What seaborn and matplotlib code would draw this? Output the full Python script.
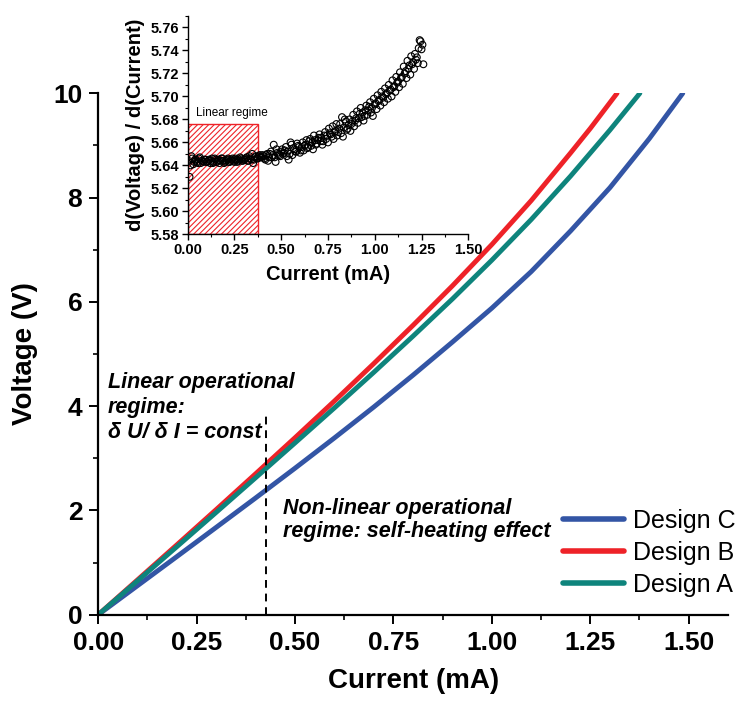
import numpy as np
import pandas as pd
import matplotlib
matplotlib.use("Agg")
import matplotlib.pyplot as plt
import seaborn as sns
from matplotlib.patches import Rectangle
from matplotlib.lines import Line2D
from matplotlib.ticker import AutoMinorLocator, FormatStrFormatter

# ---- I-V characteristics (current in mA, voltage in V) ----
designs = ["Design C", "Design B", "Design A"]
colors = ["#3355A5", "#EE2228", "#0E847C"]

current_c = [0.0, 0.1, 0.2, 0.3, 0.4, 0.5, 0.6, 0.7, 0.8, 0.9, 1.0, 1.1, 1.2, 1.3, 1.4, 1.485]
voltage_c = [0.0, 0.558, 1.116, 1.677, 2.24, 2.81, 3.39, 3.983, 4.596, 5.23, 5.88, 6.58, 7.36,
             8.19, 9.13, 10.0]

current_b = [0.0, 0.1, 0.2, 0.3, 0.4, 0.5, 0.6, 0.7, 0.8, 0.9, 1.0, 1.1, 1.2, 1.25, 1.318]
voltage_b = [0.0, 0.670, 1.342, 2.019, 2.704, 3.395, 4.098, 4.816, 5.552, 6.309, 7.100, 7.942,
             8.856, 9.325, 10.0]

current_a = [0.0, 0.1, 0.2, 0.3, 0.4, 0.5, 0.6, 0.7, 0.8, 0.9, 1.0, 1.1, 1.2, 1.3, 1.376]
voltage_a = [0.0, 0.652, 1.306, 1.965, 2.628, 3.295, 3.966, 4.648, 5.344, 6.057, 6.80, 7.579,
             8.412, 9.295, 10.0]

# boundary between linear and non-linear regime
regime_current = 0.426
regime_marker_top = 3.88

# ---- differential resistance dV/dI (inset), two sweeps ----
sweep1_current = [
    0.01, 0.02, 0.03, 0.04, 0.05, 0.06, 0.07, 0.08, 0.09, 0.10,
    0.11, 0.12, 0.13, 0.14, 0.15, 0.16, 0.17, 0.18, 0.19, 0.20,
    0.21, 0.22, 0.23, 0.24, 0.25, 0.26, 0.27, 0.28, 0.29, 0.30,
    0.31, 0.32, 0.33, 0.34, 0.35, 0.36, 0.37, 0.38, 0.39, 0.40,
    0.41, 0.42, 0.43, 0.44, 0.45, 0.46, 0.47, 0.48, 0.49, 0.50,
    0.51, 0.52, 0.53, 0.54, 0.55, 0.56, 0.57, 0.58, 0.59, 0.60,
    0.61, 0.62, 0.63, 0.64, 0.65, 0.66, 0.67, 0.68, 0.69, 0.70,
    0.71, 0.72, 0.73, 0.74, 0.75, 0.76, 0.77, 0.78, 0.79, 0.80,
    0.81, 0.82, 0.83, 0.84, 0.85, 0.86, 0.87, 0.88, 0.89, 0.90,
    0.91, 0.92, 0.93, 0.94, 0.95, 0.96, 0.97, 0.98, 0.99, 1.00,
    1.01, 1.02, 1.03, 1.04, 1.05, 1.06, 1.07, 1.08, 1.09, 1.10,
    1.11, 1.12, 1.13, 1.14, 1.15, 1.16, 1.17, 1.18, 1.19, 1.20,
    1.21, 1.22, 1.23, 1.24, 1.25, 1.26,
]
sweep1_dvdi = [
    5.630, 5.648, 5.641, 5.645, 5.643, 5.646, 5.642, 5.644, 5.645, 5.643,
    5.644, 5.642, 5.646, 5.643, 5.645, 5.644, 5.642, 5.646, 5.644, 5.643,
    5.645, 5.643, 5.644, 5.646, 5.643, 5.645, 5.644, 5.647, 5.644, 5.645,
    5.646, 5.644, 5.648, 5.645, 5.642, 5.647, 5.646, 5.648, 5.647, 5.649,
    5.646, 5.649, 5.644, 5.650, 5.647, 5.658, 5.643, 5.651, 5.649, 5.652,
    5.650, 5.653, 5.648, 5.645, 5.660, 5.649, 5.654, 5.652, 5.657, 5.651,
    5.656, 5.653, 5.658, 5.655, 5.661, 5.657, 5.654, 5.662, 5.659, 5.664,
    5.661, 5.658, 5.666, 5.663, 5.660, 5.668, 5.665, 5.663, 5.670, 5.666,
    5.672, 5.668, 5.665, 5.680, 5.671, 5.675, 5.670, 5.678, 5.674, 5.681,
    5.677, 5.685, 5.682, 5.679, 5.688, 5.684, 5.691, 5.686, 5.683, 5.693,
    5.689, 5.696, 5.692, 5.700, 5.695, 5.702, 5.698, 5.705, 5.700, 5.708,
    5.704, 5.712, 5.708, 5.716, 5.711, 5.720, 5.716, 5.724, 5.719, 5.728,
    5.724, 5.732, 5.729, 5.749, 5.741, 5.728,
]
sweep2_current = [
    0.005, 0.015, 0.025, 0.035, 0.045, 0.055, 0.065, 0.075, 0.085, 0.095,
    0.105, 0.115, 0.125, 0.135, 0.145, 0.155, 0.165, 0.175, 0.185, 0.195,
    0.205, 0.215, 0.225, 0.235, 0.245, 0.255, 0.265, 0.275, 0.285, 0.295,
    0.305, 0.315, 0.325, 0.335, 0.345, 0.355, 0.365, 0.375, 0.385, 0.395,
    0.405, 0.415, 0.425, 0.435, 0.445, 0.455, 0.465, 0.475, 0.485, 0.495,
    0.505, 0.515, 0.525, 0.535, 0.545, 0.555, 0.565, 0.575, 0.585, 0.595,
    0.605, 0.615, 0.625, 0.635, 0.645, 0.655, 0.665, 0.675, 0.685, 0.695,
    0.705, 0.715, 0.725, 0.735, 0.745, 0.755, 0.765, 0.775, 0.785, 0.795,
    0.805, 0.815, 0.825, 0.835, 0.845, 0.855, 0.865, 0.875, 0.885, 0.895,
    0.905, 0.915, 0.925, 0.935, 0.945, 0.955, 0.965, 0.975, 0.985, 0.995,
    1.005, 1.015, 1.025, 1.035, 1.045, 1.055, 1.065, 1.075, 1.085, 1.095,
    1.105, 1.115, 1.125, 1.135, 1.145, 1.155, 1.165, 1.175, 1.185, 1.195,
    1.205, 1.215, 1.225, 1.235, 1.245, 1.255,
]
sweep2_dvdi = [
    5.644, 5.640, 5.646, 5.643, 5.645, 5.642, 5.647, 5.644, 5.643, 5.645,
    5.643, 5.645, 5.644, 5.642, 5.646, 5.643, 5.645, 5.644, 5.646, 5.642,
    5.644, 5.646, 5.643, 5.645, 5.644, 5.646, 5.643, 5.645, 5.646, 5.644,
    5.645, 5.647, 5.644, 5.646, 5.650, 5.645, 5.648, 5.646, 5.649, 5.647,
    5.648, 5.645, 5.650, 5.647, 5.652, 5.649, 5.647, 5.654, 5.650, 5.648,
    5.654, 5.651, 5.656, 5.652, 5.650, 5.658, 5.655, 5.652, 5.659, 5.656,
    5.653, 5.660, 5.657, 5.662, 5.656, 5.663, 5.660, 5.666, 5.658, 5.662,
    5.667, 5.664, 5.661, 5.669, 5.666, 5.672, 5.667, 5.674, 5.669, 5.676,
    5.669, 5.676, 5.682, 5.673, 5.678, 5.672, 5.680, 5.676, 5.684, 5.679,
    5.687, 5.681, 5.690, 5.686, 5.683, 5.692, 5.688, 5.695, 5.690, 5.698,
    5.694, 5.701, 5.697, 5.704, 5.699, 5.707, 5.703, 5.710, 5.706, 5.714,
    5.709, 5.717, 5.713, 5.721, 5.717, 5.726, 5.722, 5.731, 5.727, 5.735,
    5.730, 5.737, 5.734, 5.742, 5.748, 5.745,
]

# linear-regime window in the inset
linear_window_current = 0.377
linear_window_top = 5.676

# ---- styling ----
sns.set_style("ticks")
plt.rcParams["font.family"] = ["Liberation Sans", "DejaVu Sans"]
plt.rcParams["hatch.linewidth"] = 0.8
plt.rcParams["axes.linewidth"] = 1.6
for key in ["text.color", "axes.labelcolor", "xtick.color", "ytick.color", "axes.edgecolor"]:
    plt.rcParams[key] = "black"

fig = plt.figure(figsize=(7.4, 7.02), dpi=100)
ax = fig.add_axes([0.1328, 0.1244, 0.851, 0.7427])

iv = pd.concat([
    pd.DataFrame({"Current": current_c, "Voltage": voltage_c, "Design": designs[0]}),
    pd.DataFrame({"Current": current_b, "Voltage": voltage_b, "Design": designs[1]}),
    pd.DataFrame({"Current": current_a, "Voltage": voltage_a, "Design": designs[2]}),
], ignore_index=True)

sns.lineplot(data=iv, x="Current", y="Voltage", hue="Design", hue_order=designs,
             palette=colors, sort=False, estimator=None, linewidth=3.5,
             legend=False, ax=ax)

ax.vlines(regime_current, 0, regime_marker_top, colors="black",
          linestyles=(0, (4, 3)), linewidth=1.4)

ax.set_xlim(0, 1.6)
ax.set_ylim(0, 10)
ax.set_xticks([0.0, 0.25, 0.5, 0.75, 1.0, 1.25, 1.5])
ax.set_yticks([0, 2, 4, 6, 8, 10])
ax.xaxis.set_major_formatter(FormatStrFormatter("%.2f"))
ax.xaxis.set_minor_locator(AutoMinorLocator(2))
ax.yaxis.set_minor_locator(AutoMinorLocator(2))
ax.tick_params(which="major", direction="out", length=6.5, width=1.4,
               labelsize=19)
ax.tick_params(axis="x", which="major", pad=5.5)
ax.tick_params(axis="y", which="major", pad=5)
ax.tick_params(which="minor", direction="out", length=3.6, width=1.2)
for lab in ax.get_xticklabels() + ax.get_yticklabels():
    lab.set_fontweight("bold")
sns.despine(ax=ax)

ax.set_xlabel("Current (mA)", fontsize=20, fontweight="bold", labelpad=9)
ax.set_ylabel("Voltage (V)", fontsize=20, fontweight="bold", labelpad=11)

ax.text(0.025, 3.97, "Linear operational\nregime:\nδ U/ δ I = const",
        fontsize=15.5, fontweight="bold", fontstyle="italic",
        ha="left", va="center", linespacing=1.25)
ax.text(0.4685, 1.82, "Non-linear operational\nregime: self-heating effect",
        fontsize=15.5, fontweight="bold", fontstyle="italic",
        ha="left", va="center", linespacing=1.15)

handles = [Line2D([], [], color=c, linewidth=4, solid_capstyle="round") for c in colors]
fig.legend(handles, designs, loc="upper left",
           bbox_to_anchor=(563 / 740, 1 - 509 / 702), frameon=False,
           fontsize=18, handlelength=2.45, handletextpad=0.35,
           labelspacing=0.32, borderpad=0, borderaxespad=0)

# ---- inset: differential resistance ----
axin = fig.add_axes([0.2536, 0.6662, 0.3792, 0.311])
axin.add_patch(Rectangle((0, 5.58), linear_window_current, linear_window_top - 5.58,
                         facecolor="none", edgecolor="#EE2228", hatch="//////",
                         linewidth=1.0, zorder=1))
dvdi = pd.concat([
    pd.DataFrame({"Current": sweep1_current, "dVdI": sweep1_dvdi}),
    pd.DataFrame({"Current": sweep2_current, "dVdI": sweep2_dvdi}),
], ignore_index=True)
sns.scatterplot(data=dvdi, x="Current", y="dVdI", marker="o", s=24,
                facecolor="none", edgecolor="black", linewidth=0.8,
                ax=axin, zorder=3)
axin.text(0.044, 5.6857, "Linear regime", fontsize=8.5, ha="left", va="center")

axin.set_xlim(0, 1.5)
axin.set_ylim(5.58, 5.77)
axin.set_xticks([0.0, 0.25, 0.5, 0.75, 1.0, 1.25, 1.5])
axin.set_yticks([5.58, 5.60, 5.62, 5.64, 5.66, 5.68, 5.70, 5.72, 5.74, 5.76])
axin.xaxis.set_major_formatter(FormatStrFormatter("%.2f"))
axin.yaxis.set_major_formatter(FormatStrFormatter("%.2f"))
axin.xaxis.set_minor_locator(AutoMinorLocator(2))
axin.yaxis.set_minor_locator(AutoMinorLocator(2))
for s in ["left", "bottom"]:
    axin.spines[s].set_linewidth(1.0)
axin.tick_params(which="major", direction="out", length=4, width=1.0,
                 labelsize=10.5, pad=2)
axin.tick_params(which="minor", direction="out", length=2.5, width=0.8)
for lab in axin.get_xticklabels() + axin.get_yticklabels():
    lab.set_fontweight("bold")
sns.despine(ax=axin)
axin.patch.set_alpha(0)
axin.set_xlabel("Current (mA)", fontsize=14.5, fontweight="bold", labelpad=6)
axin.set_ylabel("d(Voltage) / d(Current)", fontsize=14.5, fontweight="bold", labelpad=4)

fig.savefig("out.png", dpi=100)
